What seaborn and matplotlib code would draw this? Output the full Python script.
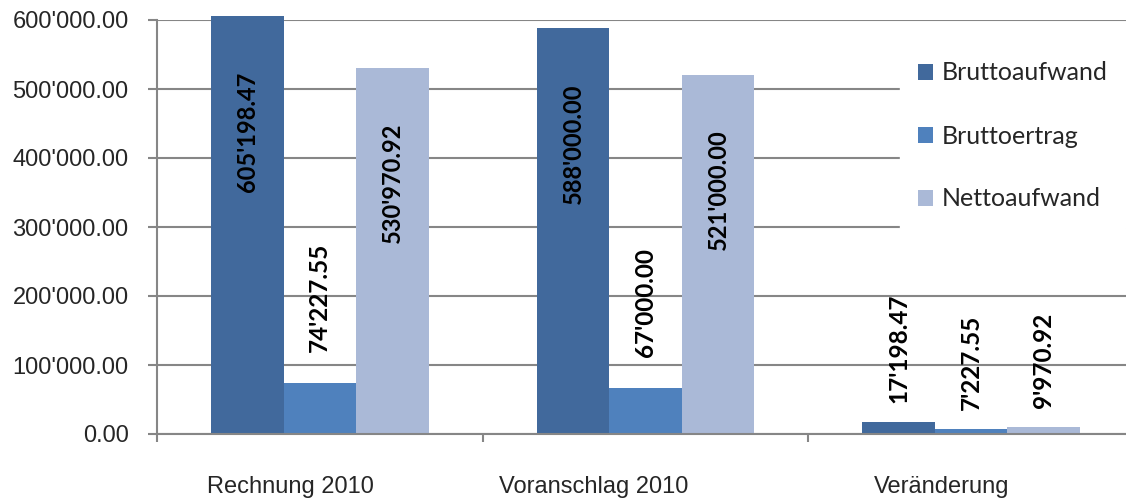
import matplotlib
matplotlib.use("Agg")
import matplotlib.pyplot as plt
import matplotlib.transforms as mtransforms
import seaborn as sns
import pandas as pd
from matplotlib.ticker import FuncFormatter, FixedLocator

categories = ["Rechnung 2010", "Voranschlag 2010", "Veränderung"]
series = ["Bruttoaufwand", "Bruttoertrag", "Nettoaufwand"]
bruttoaufwand = [605198.47, 588000.00, 17198.47]
bruttoertrag = [74227.55, 67000.00, 7227.55]
nettoaufwand = [530970.92, 521000.00, 9970.92]
yticks = [0, 100000, 200000, 300000, 400000, 500000, 600000]
colors = ["#41699C", "#4F81BD", "#AAB9D7"]

rows = []
for s, vals in zip(series, [bruttoaufwand, bruttoertrag, nettoaufwand]):
    for c, v in zip(categories, vals):
        rows.append({"Kategorie": c, "Serie": s, "Wert": v})
df = pd.DataFrame(rows)

sns.set_theme(style="white")
plt.rcParams["font.family"] = ["Liberation Sans", "DejaVu Sans"]

def fmt(v):
    return f"{v:,.2f}".replace(",", "'")

fig = plt.figure(figsize=(11.26, 5.0), dpi=100)
ax = fig.add_axes([157 / 1126, 66 / 500, 977 / 1126, 414 / 500])

sns.barplot(data=df, x="Kategorie", y="Wert", hue="Serie", order=categories,
            hue_order=series, palette=colors, width=0.668, gap=0,
            saturation=1, ax=ax, errorbar=None, zorder=2, linewidth=0)

ax.set_xlim(-0.5, 2.5)
ax.set_ylim(0, 600000)
ax.yaxis.set_major_locator(FixedLocator(yticks))
ax.yaxis.set_major_formatter(FuncFormatter(lambda v, p: fmt(v)))
ax.grid(axis="y", color="#868686", linewidth=1.5, zorder=0)
ax.set_axisbelow(True)
for sp in ["top", "right"]:
    ax.spines[sp].set_visible(False)
for sp in ["left", "bottom"]:
    ax.spines[sp].set_color("#868686")
    ax.spines[sp].set_linewidth(1.5)
ax.tick_params(axis="y", which="major", length=6.5, width=1.5, color="#868686",
               labelsize=17, pad=14, left=True)
ax.set_xticks([-0.5, 0.5, 1.5, 2.5], minor=True)
ax.tick_params(axis="x", which="minor", length=6, width=1.5, color="#868686",
               bottom=True, direction="out")
ax.tick_params(axis="x", which="major", length=0, labelsize=17, pad=30)
ax.set_xlabel("")
ax.set_ylabel("")

# category labels sit slightly left of the category centre in the original
label_shift_px = [-29, -52, -30]
for lbl, dx in zip(ax.get_xticklabels(), label_shift_px):
    lbl.set_transform(lbl.get_transform() +
                      mtransforms.ScaledTranslation(dx / 100, 0, fig.dpi_scale_trans))

for cont in ax.containers:
    for bar in cont:
        bar.set_clip_on(False)
        h = bar.get_height()
        x = bar.get_x() + bar.get_width() / 2
        if h > 300000:
            ax.annotate(fmt(h), (x, h), xytext=(0, -55), textcoords="offset pixels",
                        rotation=90, ha="center", va="top", fontsize=17,
                        fontweight="bold", family="Lato", color="black", zorder=5,
                        annotation_clip=False)
        else:
            off = 31 if h > 50000 else 19
            ax.annotate(fmt(h), (x, h), xytext=(0, off), textcoords="offset pixels",
                        rotation=90, ha="center", va="bottom", fontsize=17.5,
                        fontweight="bold", family="Lato", color="black", zorder=5,
                        annotation_clip=False)

leg = ax.legend(loc="upper left", bbox_to_anchor=(900 / 1126, 1 - 44 / 500),
                bbox_transform=fig.transFigure, frameon=True, fancybox=False,
                edgecolor="white", framealpha=1, borderpad=0.7, borderaxespad=0,
                handlelength=0.6, handleheight=0.6, handletextpad=0.35,
                labelspacing=1.6, prop={"family": "Lato", "size": 18})
leg.set_zorder(10)

fig.savefig("out.png", dpi=100)
